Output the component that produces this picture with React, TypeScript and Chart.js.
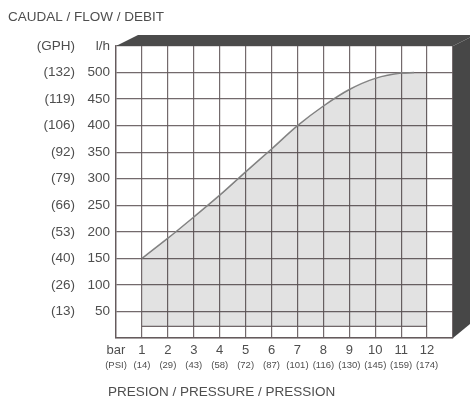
import React, { useEffect, useRef } from 'react';
import { Chart, registerables } from 'chart.js';

Chart.register(...registerables);

// ---- data ----
const pressureBar = [1, 2, 3, 4, 5, 6, 7, 8, 9, 10, 11, 11.5];
const flowLh = [150, 188, 228, 269, 313, 356, 400, 437, 468, 489, 499, 500];
const fillEndBar = 12;
const fillEndFlow = 500;
const fillBaseFlow = 22;

const barTickLabels = ['bar', '1', '2', '3', '4', '5', '6', '7', '8', '9', '10', '11', '12', ''];
const psiTickLabels = ['(PSI)', '(14)', '(29)', '(43)', '(58)', '(72)', '(87)', '(101)', '(116)', '(130)', '(145)', '(159)', '(174)', ''];
const lhTickLabels = ['', '50', '100', '150', '200', '250', '300', '350', '400', '450', '500', 'l/h'];
const gphTickLabels = ['', '(13)', '(26)', '(40)', '(53)', '(66)', '(79)', '(92)', '(106)', '(119)', '(132)', '(GPH)'];

const yTitle = 'CAUDAL / FLOW / DEBIT';
const xTitle = 'PRESION / PRESSURE / PRESSION';

const FONT = '"Liberation Sans", Arial, sans-serif';
const TEXT = '#4e4e4e';
const GRID = 'rgba(100,90,92,0.9)';

const framePlugin = {
  id: 'frame3d',
  afterDraw(chart: any) {
    const { ctx, chartArea } = chart;
    const { left, right, top, bottom } = chartArea;
    const dx = 22;
    const dy = 11;
    ctx.save();
    ctx.fillStyle = '#4b4b4b';
    ctx.beginPath();
    ctx.moveTo(left, top);
    ctx.lineTo(left + dx, top - dy);
    ctx.lineTo(right + dx, top - dy);
    ctx.lineTo(right, top);
    ctx.closePath();
    ctx.fill();
    ctx.fillStyle = '#474747';
    ctx.beginPath();
    ctx.moveTo(right, top);
    ctx.lineTo(right + dx, top - dy);
    ctx.lineTo(right + dx, bottom - 18);
    ctx.lineTo(right, bottom);
    ctx.closePath();
    ctx.fill();
    ctx.fillStyle = TEXT;
    ctx.font = `13.5px ${FONT}`;
    ctx.textBaseline = 'middle';
    ctx.textAlign = 'left';
    ctx.fillText(yTitle, 8, 17);
    ctx.fillText(xTitle, 108, 392);
    ctx.restore();
  },
};

export default function App() {
  const ref = useRef<HTMLCanvasElement>(null);
  useEffect(() => {
    if (!ref.current) return;
    const linePts = pressureBar.map((b, i) => ({ x: b, y: flowLh[i] }));
    const fillPts = [...linePts, { x: fillEndBar, y: fillEndFlow }];
    const basePts = [
      { x: pressureBar[0], y: fillBaseFlow },
      { x: fillEndBar, y: fillBaseFlow },
    ];
    const chart = new Chart(ref.current, {
      type: 'line',
      data: {
        datasets: [
          {
            data: fillPts,
            borderWidth: 0,
            borderColor: 'transparent',
            backgroundColor: 'rgba(0,0,0,0.115)',
            fill: { value: fillBaseFlow },
            pointRadius: 0,
            cubicInterpolationMode: 'monotone',
          },
          {
            data: linePts,
            borderWidth: 1.5,
            borderColor: '#8a8a8a',
            fill: false,
            pointRadius: 0,
            cubicInterpolationMode: 'monotone',
          },
          {
            data: basePts,
            borderWidth: 1.2,
            borderColor: GRID,
            fill: false,
            pointRadius: 0,
          },
        ],
      },
      options: {
        responsive: false,
        animation: false,
        events: [],
        layout: { padding: { left: 0, right: 17, top: 46, bottom: 27 } },
        plugins: { legend: { display: false }, tooltip: { enabled: false }, title: { display: false } },
        scales: {
          x: {
            type: 'linear',
            position: 'bottom',
            weight: 0,
            min: 0,
            max: 13,
            grid: { color: GRID, lineWidth: 1.2, drawTicks: false },
            border: { color: GRID, width: 1.4 },
            ticks: {
              stepSize: 1,
              autoSkip: false,
              maxRotation: 0,
              padding: 5,
              color: TEXT,
              font: { family: FONT, size: 13, lineHeight: 1.2 },
              callback: (v: any) => barTickLabels[Math.round(v)] ?? '',
            },
            afterFit: (s: any) => { s.height = 20; },
          },
          xPsi: {
            type: 'linear',
            position: 'bottom',
            weight: 1,
            min: 0,
            max: 13,
            grid: { display: false, drawTicks: false },
            border: { display: false },
            ticks: {
              stepSize: 1,
              autoSkip: false,
              maxRotation: 0,
              padding: 2,
              color: TEXT,
              font: { family: FONT, size: 9.5, lineHeight: 1.2 },
              callback: (v: any) => psiTickLabels[Math.round(v)] ?? '',
            },
            afterFit: (s: any) => { s.height = 14; },
          },
          y: {
            type: 'linear',
            position: 'left',
            weight: 0,
            min: 0,
            max: 550,
            grid: { color: GRID, lineWidth: 1.2, drawTicks: false },
            border: { color: GRID, width: 1.4 },
            ticks: {
              stepSize: 50,
              padding: 6,
              color: TEXT,
              font: { family: FONT, size: 13.5, lineHeight: 1.2 },
              callback: (v: any) => lhTickLabels[Math.round(v / 50)] ?? '',
            },
            afterFit: (s: any) => { s.width = 38; },
          },
          yGph: {
            type: 'linear',
            position: 'left',
            weight: 1,
            min: 0,
            max: 550,
            grid: { display: false, drawTicks: false },
            border: { display: false },
            ticks: {
              stepSize: 50,
              padding: 3,
              color: TEXT,
              font: { family: FONT, size: 13.5, lineHeight: 1.2 },
              callback: (v: any) => gphTickLabels[Math.round(v / 50)] ?? '',
            },
            afterFit: (s: any) => { s.width = 78; },
          },
        },
      } as any,
      plugins: [framePlugin],
    });
    return () => chart.destroy();
  }, []);
  return (
    <div style={{ position: 'fixed', left: 0, top: 0, width: 470, height: 399, background: '#fff' }}>
      <canvas ref={ref} width={470} height={399} style={{ display: 'block' }} />
    </div>
  );
}
